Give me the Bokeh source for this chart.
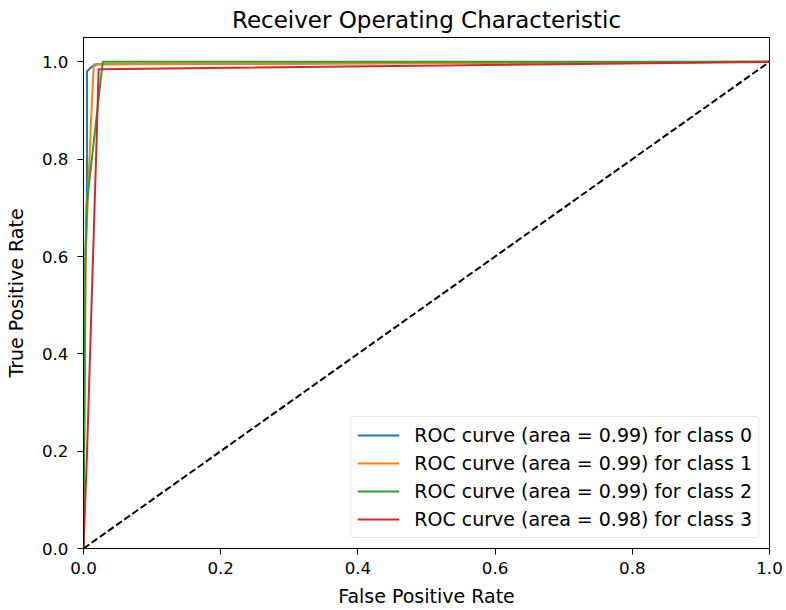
from bokeh.plotting import figure
from bokeh.models import Range1d, FixedTicker, Legend, LegendItem
from bokeh.embed import file_html
from bokeh.resources import INLINE

# ROC data
fpr0 = [0.0, 0.001, 0.005, 0.005, 0.012, 0.02, 1.0]
tpr0 = [0.0, 0.50, 0.73, 0.98, 0.99, 0.995, 1.0]
fpr1 = [0.0, 0.003, 0.011, 0.015, 1.0]
tpr1 = [0.0, 0.60, 0.88, 0.995, 1.0]
fpr2 = [0.0, 0.003, 0.005, 0.028, 1.0]
tpr2 = [0.0, 0.60, 0.71, 1.0, 1.0]
fpr3 = [0.0, 0.005, 0.020, 0.022, 1.0]
tpr3 = [0.0, 0.19, 0.88, 0.985, 1.0]
areas = [0.99, 0.99, 0.99, 0.98]
classes = [0, 1, 2, 3]
colors = ["#1f77b4", "#ff7f0e", "#2ca02c", "#d62728"]
diag_x = [0.0, 1.0]
diag_y = [0.0, 1.0]
ticks = [0.0, 0.2, 0.4, 0.6, 0.8, 1.0]
tick_labels = {0.0: "0.0", 0.2: "0.2", 0.4: "0.4", 0.6: "0.6", 0.8: "0.8", 1.0: "1.0"}

FONT = "DejaVu Sans"

p = figure(width=786, height=610, output_backend="svg", toolbar_location=None,
           x_range=Range1d(0, 1.0), y_range=Range1d(0, 1.05),
           min_border_left=83, min_border_right=17, min_border_top=36, min_border_bottom=62,
           title="Receiver Operating Characteristic")
p.title.align = "center"
p.title.text_font = FONT
p.title.text_font_size = "23px"
p.title.text_font_style = "normal"
p.title.text_color = "black"
p.title.standoff = 9

p.grid.visible = False
p.outline_line_color = "black"
p.outline_line_width = 1
p.background_fill_color = "white"
p.border_fill_color = "white"

for ax in (p.xaxis, p.yaxis):
    ax.ticker = FixedTicker(ticks=ticks)
    ax.major_label_overrides = tick_labels
    ax.minor_tick_line_color = None
    ax.major_tick_out = 6
    ax.major_tick_in = 0
    ax.axis_line_color = "black"
    ax.major_tick_line_color = "black"
    ax.major_label_text_font = FONT
    ax.major_label_text_font_size = "16.7px"
    ax.major_label_text_color = "black"
    ax.axis_label_text_font = FONT
    ax.axis_label_text_font_size = "19px"
    ax.axis_label_text_font_style = "normal"
    ax.axis_label_text_color = "black"

p.xaxis.major_label_standoff = 7
p.yaxis.major_label_standoff = 9
p.xaxis.axis_label_standoff = 8
p.yaxis.axis_label_standoff = 12
p.xaxis.axis_label = "False Positive Rate"
p.yaxis.axis_label = "True Positive Rate"

items = []
for fx, ty, c, a, k in zip([fpr0, fpr1, fpr2, fpr3], [tpr0, tpr1, tpr2, tpr3], colors, areas, classes):
    r = p.line(fx, ty, line_color=c, line_width=2)
    items.append(LegendItem(label=f"ROC curve (area = {a:.2f}) for class {k}", renderers=[r]))

p.line(diag_x, diag_y, line_color="black", line_width=2, line_dash="7 3")

legend = Legend(items=items, location="bottom_right")
legend.label_text_font = FONT
legend.label_text_font_size = "19px"
legend.label_text_color = "black"
legend.glyph_width = 42
legend.glyph_height = 24
legend.spacing = 4
legend.label_standoff = 15
legend.padding = 6
legend.margin = 10
legend.border_line_color = "#cccccc"
legend.border_line_width = 1
legend.border_radius = 4
legend.background_fill_alpha = 0.8
p.add_layout(legend)

open("out.html", "w").write(file_html(p, INLINE))
